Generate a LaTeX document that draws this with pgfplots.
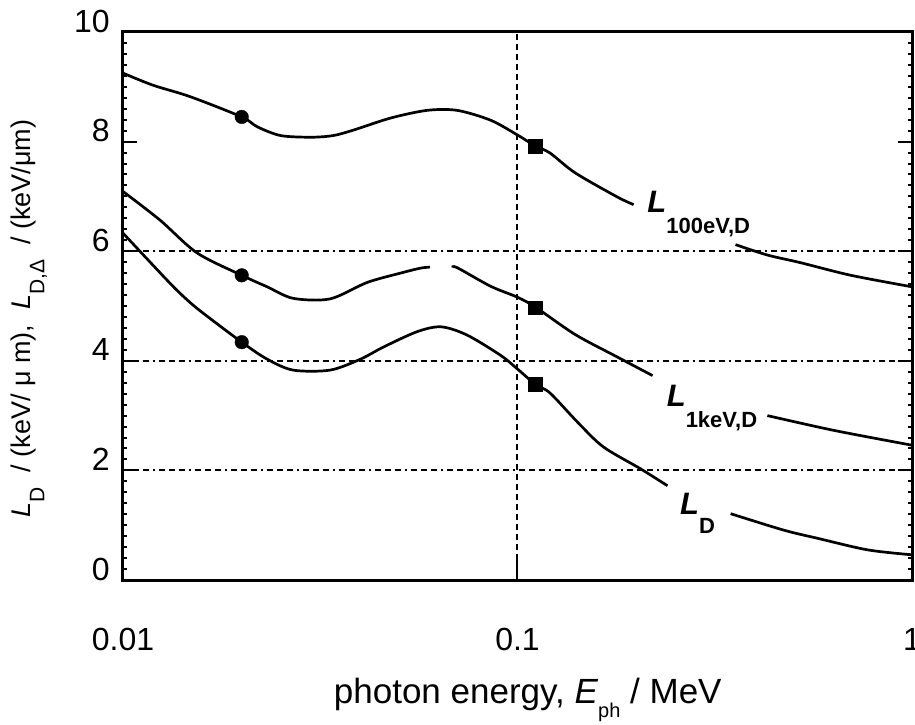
\documentclass[border=0pt]{standalone}
\usepackage{fontspec}
\setmainfont{Liberation Sans}
\usepackage{pgfplots}
\pgfplotsset{compat=1.18}

\begin{document}
\begin{tikzpicture}
\begin{axis}[
    scale only axis,
    width=789pt, height=548pt,
    xmode=log,
    xmin=0.01, xmax=1,
    ymin=0, ymax=10,
    xtick={0.01,0.1,1}, xticklabels={0.01,0.1,1},
    xminorticks=false,
    xtick style={draw=none},
    ytick={0,2,...,10},
    minor y tick num=9,
    tick align=inside,
    major tick length=14pt, minor tick length=4pt,
    every tick/.style={black, line width=2pt},
    axis line style={line width=3pt},
    tick label style={font=\fontsize{32}{32}\selectfont},
    /pgf/number format/assume math mode=true,
    xticklabel style={anchor=base, inner sep=0pt, yshift=-70pt},
    yticklabel style={anchor=east, inner sep=0pt, xshift=-13pt, yshift=11pt},
    xlabel={photon energy, \textit{E}\raisebox{-14pt}{\fontsize{20}{20}\selectfont ph} / MeV},
    xlabel style={font=\fontsize{35}{35}\selectfont, at={(rel axis cs:0.513,0)}, anchor=base, yshift=-123pt},
    ylabel={\textit{L}\raisebox{-14pt}{\fontsize{21}{21}\selectfont D}\ \ / (keV/ μ m),\ \ \textit{L}\raisebox{-14pt}{\fontsize{21}{21}\selectfont D,Δ}\ \ / (keV/μm)},
    ylabel style={font=\fontsize{27}{27}\selectfont, at={(rel axis cs:0,0.477)}, anchor=center, yshift=94pt},
    clip=false,
]
\coordinate (sw) at (rel axis cs:0,0);
\coordinate (ne) at (rel axis cs:1,1);

% grid lines
\draw[line width=2.2pt, dash pattern=on 6pt off 4pt on 6pt off 4pt on 6pt off 4pt on 2pt off 4pt]
    (axis cs:0.01,2) -- (axis cs:1,2);
\draw[line width=2.2pt, dash pattern=on 6pt off 4pt on 6pt off 4pt on 6pt off 4pt on 2pt off 4pt]
    (axis cs:0.01,4) -- (axis cs:1,4);
\draw[line width=2.2pt, dash pattern=on 6pt off 4pt on 6pt off 4pt on 6pt off 4pt on 2pt off 4pt]
    (axis cs:0.01,6) -- (axis cs:1,6);
\draw[line width=2pt, dash pattern=on 6pt off 4pt] (axis cs:0.1,0) -- (axis cs:0.1,10);
\draw[line width=2pt] (axis cs:0.1,0) -- ([yshift=20pt]axis cs:0.1,0);

% L_100eV,D
\addplot[black, line width=2.7pt, smooth] coordinates {
    (0.01,9.25) (0.0119,9.03) (0.0148,8.82) (0.02,8.45) (0.0219,8.27) (0.0251,8.11)
    (0.030,8.08) (0.0341,8.11) (0.0384,8.21) (0.0477,8.43) (0.059,8.57) (0.0703,8.57)
    (0.0855,8.39) (0.1,8.12) (0.111,7.92) (0.121,7.79) (0.140,7.43) (0.179,6.99) (0.197,6.85)
};
\addplot[black, line width=2.7pt, smooth] coordinates {
    (0.357,6.12) (0.430,5.93) (0.522,5.79) (0.70,5.56) (1.0,5.35)
};

% L_1keV,D
\addplot[black, line width=2.7pt, smooth] coordinates {
    (0.01,7.09) (0.0124,6.57) (0.0154,5.97) (0.02,5.56) (0.0232,5.35) (0.0270,5.14)
    (0.0335,5.13) (0.0416,5.43) (0.0505,5.60) (0.0567,5.69) (0.060,5.71)
};
\addplot[black, line width=2.7pt, smooth] coordinates {
    (0.0685,5.70) (0.0703,5.70) (0.0855,5.36) (0.1,5.16) (0.111,4.98) (0.140,4.48)
    (0.179,4.07) (0.220,3.73)
};
\addplot[black, line width=2.7pt, smooth] coordinates {
    (0.430,3.0) (0.634,2.73) (1.0,2.46)
};

% L_D
\addplot[black, line width=2.7pt, smooth] coordinates {
    (0.01,6.33) (0.0129,5.48) (0.0142,5.18) (0.0157,4.91) (0.02,4.34) (0.0232,4.03)
    (0.0270,3.83) (0.0335,3.83) (0.040,4.03) (0.0457,4.25) (0.0556,4.53) (0.064,4.62)
    (0.0745,4.47) (0.0906,4.10) (0.1,3.85) (0.111,3.57) (0.121,3.41) (0.142,2.88)
    (0.165,2.43) (0.205,2.03) (0.240,1.72)
};
\addplot[black, line width=2.7pt, smooth] coordinates {
    (0.347,1.21) (0.473,0.91) (0.577,0.76) (0.772,0.55) (1.0,0.46)
};

% markers
\addplot[only marks, mark=*, mark size=6.8pt, black] coordinates {
    (0.02,8.45) (0.02,5.56) (0.02,4.34)
};
\addplot[only marks, mark=square*, mark size=6.8pt, black] coordinates {
    (0.111,7.92) (0.111,4.97) (0.111,3.57)
};

% curve labels
\node[anchor=base west, inner sep=0pt, font=\fontsize{31}{31}\selectfont\bfseries\itshape]
    at (axis cs:0.2133,6.715) {L\raisebox{-21pt}{\fontsize{22}{22}\selectfont\upshape 100eV,D}};
\node[anchor=base west, inner sep=0pt, font=\fontsize{31}{31}\selectfont\bfseries\itshape]
    at (axis cs:0.2388,3.161) {L\raisebox{-21pt}{\fontsize{22}{22}\selectfont\upshape 1keV,D}};
\node[anchor=base west, inner sep=0pt, font=\fontsize{31}{31}\selectfont\bfseries\itshape]
    at (axis cs:0.2582,1.204) {L\raisebox{-19pt}{\fontsize{22}{22}\selectfont\upshape D}};
\end{axis}
\pgfresetboundingbox
\path ([shift={(-123pt,-145pt)}]sw) rectangle ([shift={(3pt,32pt)}]ne);
\end{tikzpicture}
\end{document}
